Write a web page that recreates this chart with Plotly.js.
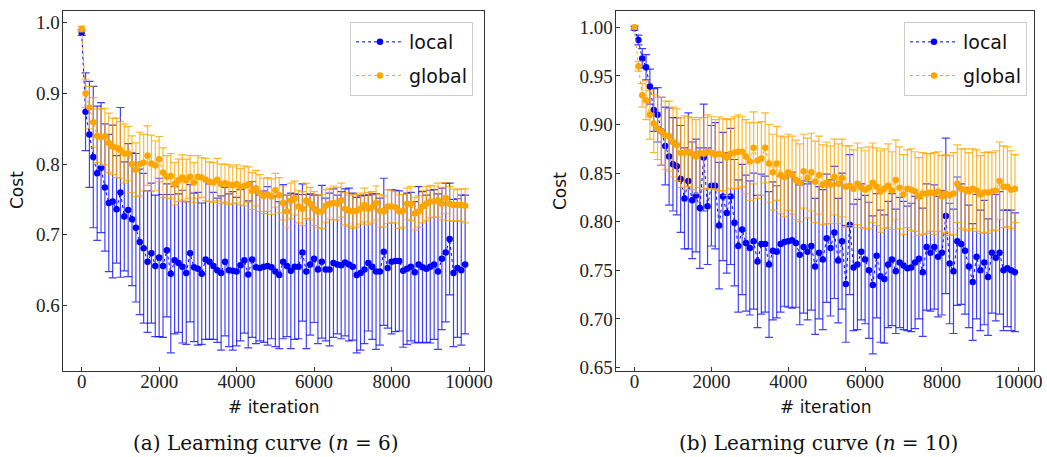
<!DOCTYPE html>
<html>
<head>
<meta charset="utf-8">
<script src="https://cdn.plot.ly/plotly-3.0.1.min.js"></script>
<style>
html,body{margin:0;padding:0;background:#fff;}
#chart{width:1047px;height:457px;}
</style>
</head>
<body>
<div id="chart"></div>
<script>
// Iterations (x values)
const ITER = [0,100,200,300,400,500,600,700,800,900,
  1000,1100,1200,1300,1400,1500,1600,1700,1800,1900,
  2000,2100,2200,2300,2400,2500,2600,2700,2800,2900,
  3000,3100,3200,3300,3400,3500,3600,3700,3800,3900,
  4000,4100,4200,4300,4400,4500,4600,4700,4800,4900,
  5000,5100,5200,5300,5400,5500,5600,5700,5800,5900,
  6000,6100,6200,6300,6400,6500,6600,6700,6800,6900,
  7000,7100,7200,7300,7400,7500,7600,7700,7800,7900,
  8000,8100,8200,8300,8400,8500,8600,8700,8800,8900,
  9000,9100,9200,9300,9400,9500,9600,9700,9800,9900];

// (a) n = 6 : local
const local6 = [0.986,0.874,0.842,0.810,0.787,0.795,0.767,0.745,0.747,0.736,
  0.760,0.726,0.735,0.722,0.710,0.690,0.681,0.662,0.674,0.656,
  0.668,0.656,0.678,0.645,0.664,0.660,0.655,0.646,0.674,0.654,
  0.652,0.645,0.665,0.662,0.656,0.650,0.646,0.662,0.650,0.649,
  0.648,0.657,0.664,0.644,0.665,0.654,0.653,0.655,0.656,0.654,
  0.648,0.643,0.662,0.656,0.649,0.655,0.655,0.675,0.648,0.658,
  0.666,0.651,0.662,0.651,0.651,0.660,0.658,0.657,0.661,0.658,
  0.655,0.643,0.646,0.651,0.660,0.655,0.648,0.648,0.676,0.653,
  0.662,0.663,0.663,0.649,0.652,0.655,0.647,0.658,0.654,0.652,
  0.655,0.658,0.648,0.666,0.675,0.694,0.646,0.653,0.650,0.658];
const local6Err = [0.004,0.055,0.075,0.100,0.095,0.092,0.090,0.097,0.108,0.076,
  0.120,0.077,0.094,0.094,0.105,0.103,0.106,0.100,0.099,0.100,
  0.112,0.101,0.094,0.112,0.104,0.098,0.108,0.101,0.097,0.105,
  0.108,0.100,0.113,0.110,0.104,0.102,0.109,0.105,0.108,0.112,
  0.105,0.107,0.103,0.104,0.110,0.108,0.103,0.107,0.112,0.101,
  0.106,0.104,0.109,0.100,0.110,0.103,0.102,0.097,0.109,0.100,
  0.090,0.105,0.108,0.101,0.108,0.105,0.098,0.104,0.104,0.108,
  0.104,0.110,0.109,0.105,0.096,0.103,0.110,0.104,0.104,0.085,
  0.102,0.100,0.099,0.108,0.107,0.105,0.100,0.110,0.107,0.104,
  0.108,0.106,0.110,0.100,0.098,0.079,0.104,0.098,0.106,0.098];

// (a) n = 6 : global
const global6 = [0.991,0.900,0.880,0.859,0.840,0.838,0.839,0.830,0.825,0.823,
  0.820,0.815,0.815,0.800,0.792,0.800,0.802,0.812,0.801,0.798,
  0.807,0.788,0.782,0.783,0.772,0.777,0.781,0.777,0.782,0.774,
  0.782,0.781,0.778,0.775,0.774,0.778,0.772,0.773,0.771,0.770,
  0.772,0.768,0.769,0.771,0.762,0.766,0.759,0.755,0.757,0.754,
  0.763,0.756,0.745,0.733,0.748,0.752,0.740,0.737,0.748,0.744,
  0.737,0.733,0.733,0.741,0.744,0.745,0.744,0.749,0.737,0.734,
  0.733,0.734,0.737,0.742,0.737,0.739,0.745,0.734,0.733,0.740,
  0.740,0.739,0.733,0.734,0.744,0.744,0.730,0.733,0.740,0.744,
  0.747,0.747,0.749,0.744,0.752,0.744,0.742,0.742,0.742,0.741];
const global6Err = [0.004,0.020,0.030,0.035,0.038,0.040,0.040,0.042,0.040,0.042,
  0.040,0.042,0.038,0.040,0.038,0.045,0.040,0.042,0.040,0.035,
  0.032,0.035,0.030,0.032,0.030,0.030,0.032,0.030,0.030,0.028,
  0.030,0.028,0.030,0.028,0.028,0.030,0.028,0.027,0.028,0.026,
  0.027,0.026,0.028,0.025,0.026,0.025,0.026,0.025,0.024,0.025,
  0.024,0.025,0.024,0.023,0.025,0.024,0.023,0.024,0.025,0.023,
  0.024,0.023,0.024,0.023,0.022,0.024,0.023,0.024,0.023,0.022,
  0.024,0.023,0.022,0.024,0.023,0.022,0.024,0.023,0.022,0.024,
  0.023,0.022,0.024,0.023,0.022,0.024,0.023,0.022,0.023,0.024,
  0.023,0.022,0.024,0.023,0.022,0.024,0.023,0.022,0.023,0.024];

// (b) n = 10 : local
const local10 = [0.999,0.987,0.968,0.959,0.939,0.915,0.910,0.893,0.878,0.867,
  0.859,0.857,0.844,0.824,0.842,0.822,0.827,0.814,0.866,0.816,
  0.837,0.837,0.796,0.826,0.809,0.826,0.799,0.775,0.792,0.778,
  0.773,0.780,0.759,0.777,0.777,0.756,0.770,0.769,0.777,0.779,
  0.780,0.781,0.778,0.766,0.774,0.769,0.775,0.754,0.768,0.761,
  0.783,0.773,0.789,0.760,0.780,0.736,0.797,0.753,0.756,0.769,
  0.761,0.750,0.735,0.765,0.744,0.741,0.756,0.761,0.749,0.758,
  0.755,0.752,0.753,0.758,0.762,0.748,0.774,0.768,0.774,0.764,
  0.768,0.806,0.757,0.749,0.780,0.777,0.770,0.754,0.738,0.764,
  0.750,0.758,0.743,0.768,0.763,0.768,0.750,0.752,0.750,0.748];
const local10Err = [0.002,0.005,0.010,0.013,0.018,0.022,0.028,0.035,0.040,0.050,
  0.048,0.050,0.055,0.052,0.070,0.060,0.058,0.062,0.055,0.060,
  0.062,0.065,0.065,0.066,0.062,0.070,0.065,0.068,0.067,0.070,
  0.069,0.070,0.068,0.072,0.070,0.075,0.071,0.068,0.070,0.066,
  0.068,0.070,0.066,0.072,0.068,0.070,0.066,0.070,0.068,0.072,
  0.066,0.070,0.068,0.064,0.070,0.060,0.072,0.065,0.067,0.070,
  0.066,0.070,0.071,0.064,0.068,0.066,0.065,0.068,0.064,0.067,
  0.066,0.064,0.066,0.068,0.062,0.066,0.065,0.060,0.064,0.062,
  0.064,0.080,0.062,0.064,0.066,0.062,0.065,0.063,0.060,0.064,
  0.062,0.064,0.060,0.062,0.065,0.063,0.062,0.060,0.062,0.061];

// (b) n = 10 : global
const global10 = [1.000,0.960,0.930,0.925,0.910,0.901,0.896,0.893,0.889,0.888,
  0.882,0.879,0.871,0.871,0.872,0.870,0.867,0.871,0.870,0.872,
  0.871,0.869,0.870,0.869,0.866,0.870,0.871,0.872,0.872,0.867,
  0.862,0.876,0.863,0.865,0.876,0.860,0.851,0.860,0.848,0.846,
  0.851,0.848,0.843,0.840,0.852,0.845,0.851,0.841,0.848,0.838,
  0.840,0.838,0.846,0.839,0.845,0.836,0.837,0.834,0.839,0.835,
  0.833,0.835,0.840,0.836,0.831,0.834,0.837,0.832,0.843,0.835,
  0.828,0.834,0.833,0.831,0.826,0.829,0.829,0.830,0.829,0.831,
  0.826,0.829,0.827,0.829,0.839,0.834,0.833,0.831,0.834,0.832,
  0.828,0.830,0.830,0.831,0.832,0.842,0.836,0.836,0.833,0.834];
const global10Err = [0.002,0.005,0.012,0.020,0.025,0.030,0.032,0.035,0.035,0.036,
  0.036,0.037,0.036,0.038,0.036,0.037,0.038,0.036,0.037,0.038,
  0.037,0.036,0.038,0.037,0.039,0.036,0.037,0.038,0.036,0.038,
  0.040,0.037,0.039,0.038,0.036,0.040,0.039,0.038,0.040,0.041,
  0.039,0.040,0.041,0.040,0.038,0.041,0.040,0.042,0.040,0.041,
  0.042,0.040,0.039,0.041,0.040,0.042,0.041,0.040,0.042,0.041,
  0.040,0.042,0.041,0.040,0.042,0.041,0.043,0.040,0.041,0.042,
  0.041,0.040,0.042,0.041,0.040,0.042,0.041,0.040,0.042,0.041,
  0.042,0.040,0.041,0.042,0.040,0.041,0.042,0.040,0.041,0.042,
  0.040,0.041,0.042,0.040,0.041,0.040,0.042,0.041,0.040,0.035];

const X_TICKS = [0,2000,4000,6000,8000,10000];
const Y_TICKS_A = [0.6,0.7,0.8,0.9,1.0];
const Y_TICKS_B = [0.65,0.70,0.75,0.80,0.85,0.90,0.95,1.00];
const NAMES = ['local','global'];
const CAPTIONS = ['(a) Learning curve (<i>n</i> = 6)','(b) Learning curve (<i>n</i> = 10)'];
const X_TITLE = '# iteration';
const Y_TITLE = 'Cost';

const W = 1047, H = 457;
const BLUE = '#0000ff', ORANGE = '#ffa500';
const BLUE_ERR = 'rgba(0,0,255,0.75)', ORANGE_ERR = 'rgba(255,165,0,0.8)';

function tr(y, err, name, color, errColor, xa, ya, legend, group) {
  return {
    type: 'scatter', mode: 'lines+markers', x: ITER, y: y, name: name,
    xaxis: xa, yaxis: ya, legend: legend, legendgroup: group,
    line: {color: color, width: 1, dash: 'dot'},
    marker: {color: color, size: 6.5},
    error_y: {type: 'data', array: err, visible: true, color: errColor, thickness: 1.2, width: 4}
  };
}

const data = [
  tr(local6, local6Err, NAMES[0], BLUE, BLUE_ERR, 'x', 'y', 'legend', 'a1'),
  tr(global6, global6Err, NAMES[1], ORANGE, ORANGE_ERR, 'x', 'y', 'legend', 'a2'),
  tr(local10, local10Err, NAMES[0], BLUE, BLUE_ERR, 'x2', 'y2', 'legend2', 'b1'),
  tr(global10, global10Err, NAMES[1], ORANGE, ORANGE_ERR, 'x2', 'y2', 'legend2', 'b2')
];

const tickFont = {family: 'Liberation Serif, serif', size: 19, color: '#222'};
function xAxis(domain, anchor) {
  return {domain: domain, anchor: anchor, range: [-495, 10395], tickvals: X_TICKS,
    ticktext: X_TICKS.map(String), ticks: 'inside', ticklen: 4, tickcolor: '#333',
    showline: true, mirror: true, linecolor: '#333', linewidth: 1,
    showgrid: false, zeroline: false, tickfont: tickFont, ticklabelstandoff: -7};
}
function yAxis(range, ticks, fmt, anchor) {
  return {domain: [(H-371)/H, (H-11)/H], anchor: anchor, range: range, tickvals: ticks,
    tickformat: fmt, ticks: 'inside', ticklen: 4, tickcolor: '#333',
    showline: true, mirror: true, linecolor: '#333', linewidth: 1,
    showgrid: false, zeroline: false, tickfont: tickFont, ticklabelstandoff: -2};
}

const legendBase = {bgcolor: 'rgba(255,255,255,0.9)', bordercolor: '#cccccc', borderwidth: 1,
  font: {family: 'DejaVu Sans, sans-serif', size: 19, color: '#111'},
  xanchor: 'right', yanchor: 'top', y: (H-22)/H, traceorder: 'grouped', tracegroupgap: 6,
  itemwidth: 48};

const annFont = {family: 'DejaVu Sans, sans-serif', size: 17, color: '#111'};
const capFont = {family: 'DejaVu Serif, serif', size: 20, color: '#111'};
function ann(text, px, py, font, angle) {
  return {text: text, x: px/W, y: (H-py)/H, xref: 'paper', yref: 'paper',
    xanchor: 'center', yanchor: 'middle', showarrow: false, font: font, textangle: angle || 0};
}

const layout = {
  width: W, height: H, margin: {l: 0, r: 0, t: 0, b: 0},
  paper_bgcolor: '#fff', plot_bgcolor: '#fff',
  showlegend: true,
  xaxis: xAxis([62.5/W, 484.3/W], 'y'),
  yaxis: yAxis([0.5074, 1.0165], Y_TICKS_A, '.1f', 'x'),
  xaxis2: xAxis([615.5/W, 1034/W], 'y2'),
  yaxis2: yAxis([0.6464, 1.0168], Y_TICKS_B, '.2f', 'x2'),
  legend: Object.assign({}, legendBase, {x: 473/W}),
  legend2: Object.assign({}, legendBase, {x: 1027/W}),
  annotations: [
    ann(Y_TITLE, 17, 190, annFont, -90),
    ann(Y_TITLE, 560, 191, annFont, -90),
    ann(X_TITLE, 273, 407, annFont),
    ann(X_TITLE, 825, 407, annFont),
    ann(CAPTIONS[0], 266, 443, capFont),
    ann(CAPTIONS[1], 818, 443, capFont)
  ]
};

Plotly.newPlot('chart', data, layout, {displayModeBar: false, staticPlot: true});
</script>
</body>
</html>
